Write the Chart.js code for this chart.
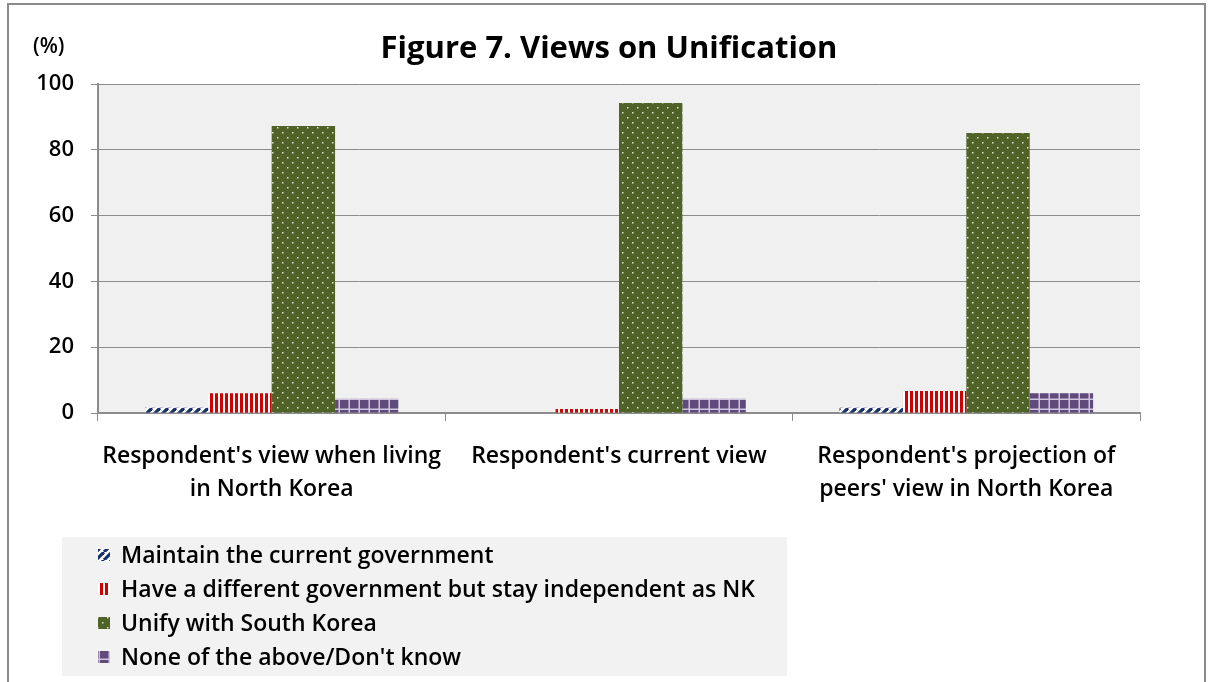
<!DOCTYPE html>
<html>
<head>
<meta charset="utf-8">
<script src="https://cdn.jsdelivr.net/npm/chart.js@4.4.0/dist/chart.umd.min.js"></script>
<style>
  html, body { margin: 0; padding: 0; background: #ffffff; }
  #wrap { width: 1212px; height: 682px; position: relative; }
</style>
</head>
<body>
<div id="wrap"><canvas id="chart"></canvas></div>
<script>
// Chart data
var categories = [
  ["Respondent's view when living", "in North Korea"],
  ["Respondent's current view"],
  ["Respondent's projection of", "peers' view in North Korea"]
];
var seriesNames = [
  'Maintain the current government',
  'Have a different government but stay independent as NK',
  'Unify with South Korea',
  "None of the above/Don't know"
];
var maintainValues = [1.6, 0, 1.6];
var differentValues = [6.0, 1.2, 6.7];
var unifyValues = [87.2, 94.2, 85.1];
var noneValues = [4.3, 4.3, 6.0];
var yTicks = [0, 20, 40, 60, 80, 100];

var FONT = '"Open Sans", Lato, sans-serif';

// ---------------------------------------------------
// Fill patterns (Excel style hatch fills)
// ---------------------------------------------------
function makeTile(w, h, draw) {
  var c = document.createElement('canvas');
  c.width = w;
  c.height = h;
  draw(c.getContext('2d'), w, h);
  return c;
}

function diagonalTile() {
  return makeTile(8, 8, function(ctx, w, h) {
    ctx.fillStyle = '#ffffff';
    ctx.fillRect(0, 0, w, h);
    ctx.strokeStyle = '#17306b';
    ctx.lineWidth = 3.2;
    for (var k = -1; k <= 1; k++) {
      ctx.beginPath();
      ctx.moveTo(k * w, h);
      ctx.lineTo(k * w + w, 0);
      ctx.stroke();
    }
  });
}

function verticalTile() {
  return makeTile(5, 4, function(ctx, w, h) {
    ctx.fillStyle = '#ffffff';
    ctx.fillRect(0, 0, w, h);
    ctx.fillStyle = '#d00000';
    ctx.fillRect(0, 0, 3, h);
  });
}

function dottedTile() {
  return makeTile(10, 10, function(ctx, w, h) {
    ctx.fillStyle = '#4f6228';
    ctx.fillRect(0, 0, w, h);
    ctx.fillStyle = '#dfe6cf';
    ctx.fillRect(2, 2, 1.5, 1.5);
    ctx.fillRect(7, 7, 1.5, 1.5);
  });
}

function gridTile() {
  return makeTile(10, 10, function(ctx, w, h) {
    ctx.fillStyle = '#604a7b';
    ctx.fillRect(0, 0, w, h);
    ctx.fillStyle = '#cfc4dd';
    ctx.fillRect(w - 1.5, 0, 1.5, h);
    ctx.fillRect(0, h - 1.5, w, 1.5);
  });
}

var canvas = document.getElementById('chart');
var ctx0 = canvas.getContext('2d');
var patterns = [
  ctx0.createPattern(diagonalTile(), 'repeat'),
  ctx0.createPattern(verticalTile(), 'repeat'),
  ctx0.createPattern(dottedTile(), 'repeat'),
  ctx0.createPattern(gridTile(), 'repeat')
];
var seriesValues = [maintainValues, differentValues, unifyValues, noneValues];

// ---------------------------------------------------
// Decorations: frame, plot background, title, legend box
// ---------------------------------------------------
var decorPlugin = {
  id: 'decor',
  beforeDraw: function(chart) {
    var ctx = chart.ctx;
    var a = chart.chartArea;
    ctx.save();
    ctx.fillStyle = '#ffffff';
    ctx.fillRect(0, 0, chart.width, chart.height);
    ctx.fillStyle = '#f0f0f0';
    ctx.fillRect(a.left, a.top, a.right - a.left, a.bottom - a.top);
    // outer frame
    ctx.strokeStyle = '#8a8a8a';
    ctx.lineWidth = 2;
    ctx.beginPath();
    ctx.moveTo(8, chart.height);
    ctx.lineTo(8, 4);
    ctx.lineTo(1205, 4);
    ctx.lineTo(1205, chart.height);
    ctx.stroke();
    ctx.restore();
  },
  afterDraw: function(chart) {
    var ctx = chart.ctx;
    ctx.save();
    ctx.fillStyle = '#000000';
    ctx.textBaseline = 'middle';
    ctx.textAlign = 'center';
    ctx.font = 'bold 31px ' + FONT;
    ctx.fillText('Figure 7. Views on Unification', 609, 49);
    ctx.textAlign = 'left';
    ctx.font = '600 21px ' + FONT;
    ctx.fillText('(%)', 33, 47);

    // legend
    ctx.fillStyle = '#f2f2f2';
    ctx.fillRect(62, 537, 725, 139);
    ctx.font = '600 23px ' + FONT;
    for (var i = 0; i < seriesNames.length; i++) {
      var cy = 555 + i * 34;
      ctx.fillStyle = patterns[i];
      ctx.fillRect(98, cy - 6, 12, 12);
      ctx.fillStyle = '#000000';
      ctx.fillText(seriesNames[i], 121, cy + 1);
    }
    ctx.restore();
  }
};

var datasets = seriesNames.map(function(name, i) {
  return {
    label: name,
    data: seriesValues[i],
    backgroundColor: patterns[i],
    borderWidth: 0
  };
});

new Chart(canvas, {
  type: 'bar',
  data: { labels: categories, datasets: datasets },
  plugins: [decorPlugin],
  options: {
    responsive: true,
    maintainAspectRatio: false,
    animation: false,
    categoryPercentage: 0.73,
    barPercentage: 1.0,
    layout: { padding: { top: 84, right: 72, bottom: 159, left: 0 } },
    plugins: {
      legend: { display: false },
      tooltip: { enabled: false }
    },
    scales: {
      x: {
        grid: {
          offset: true,
          drawOnChartArea: false,
          drawTicks: true,
          tickLength: 8,
          color: '#8c8c8c'
        },
        border: { color: '#8c8c8c', width: 2 },
        ticks: {
          color: '#000000',
          padding: 19,
          maxRotation: 0,
          autoSkip: false,
          font: { family: FONT, size: 23, weight: '600', lineHeight: 1.43 }
        },
        afterFit: function(scale) { scale.height = 110; }
      },
      y: {
        min: 0,
        max: 100,
        afterBuildTicks: function(scale) {
          scale.ticks = yTicks.map(function(v) { return { value: v }; });
        },
        grid: {
          color: '#8c8c8c',
          tickLength: 7
        },
        border: { color: '#8c8c8c', width: 2 },
        ticks: {
          color: '#000000',
          padding: 17,
          font: { family: FONT, size: 22, weight: '600' }
        },
        afterFit: function(scale) { scale.width = 98; }
      }
    }
  }
});
</script>
</body>
</html>
